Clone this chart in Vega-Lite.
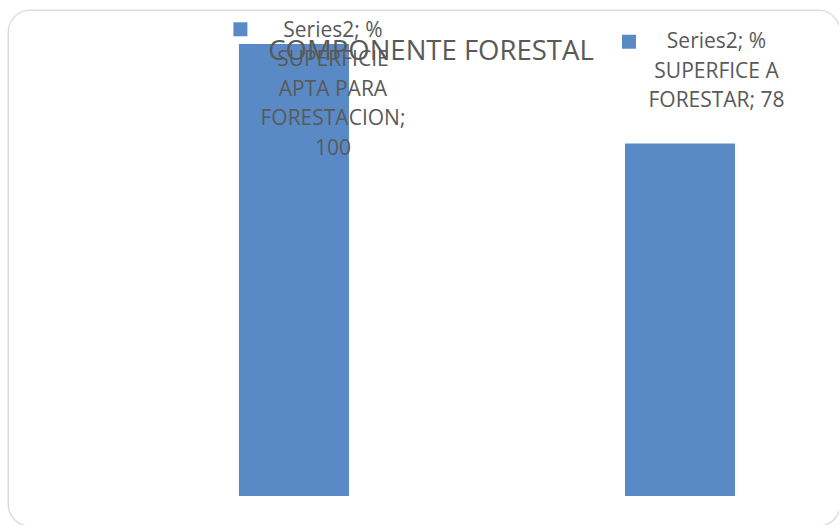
{
  "$schema": "https://vega.github.io/schema/vega-lite/v6.json",
  "autosize": "none",
  "width": 832,
  "height": 516,
  "padding": {"left": 8, "top": 10, "right": 0, "bottom": 0},
  "background": "white",
  "config": {
    "view": {"stroke": "#d9d9d9", "strokeWidth": 1.3, "cornerRadius": 22},
    "font": "Open Sans"
  },
  "title": {
    "text": "COMPONENTE FORESTAL",
    "anchor": "middle",
    "frame": "group",
    "font": "Open Sans",
    "fontSize": 27.5,
    "fontWeight": "normal",
    "color": "#595959",
    "dx": 7,
    "dy": 59
  },
  "data": {
    "values": [
      {"category": "% SUPERFICIE APTA PARA FORESTACION", "series": "Series2", "value": 100, "label": "Series2; %|SUPERFICIE|APTA PARA|FORESTACION;|100"},
      {"category": "% SUPERFICE A FORESTAR", "series": "Series2", "value": 78, "label": "Series2; %|SUPERFICE A|FORESTAR; 78"}
    ]
  },
  "encoding": {
    "x": {
      "field": "category",
      "type": "nominal",
      "sort": null,
      "axis": null,
      "scale": {"paddingInner": 0.715, "paddingOuter": 0.435, "align": 0.6875}
    },
    "y": {
      "field": "value",
      "type": "quantitative",
      "axis": null,
      "scale": {"domain": [-6.64, 107.52], "nice": false, "zero": false}
    }
  },
  "layer": [
    {
      "mark": {"type": "bar", "color": "#5a8ac6"},
      "encoding": {"y2": {"datum": 0}}
    },
    {
      "transform": [{"filter": "datum.value == 100"}],
      "mark": {"type": "text", "lineBreak": "|", "fontSize": 21, "lineHeight": 29.5, "color": "#595959", "align": "center", "baseline": "alphabetic", "dx": 39, "dy": -7.3},
      "encoding": {"text": {"field": "label"}}
    },
    {
      "transform": [{"filter": "datum.value == 78"}],
      "mark": {"type": "text", "lineBreak": "|", "fontSize": 21, "lineHeight": 29.5, "color": "#595959", "align": "center", "baseline": "alphabetic", "dx": 36.5, "dy": -95},
      "encoding": {"text": {"field": "label"}}
    },
    {
      "transform": [{"filter": "datum.value == 100"}],
      "mark": {"type": "point", "shape": "square", "filled": true, "size": 196, "opacity": 1, "color": "#5a8ac6"},
      "encoding": {
        "xOffset": {"datum": 1.5, "type": "quantitative", "scale": null},
        "y": {"datum": 103.25, "type": "quantitative"}
      }
    },
    {
      "transform": [{"filter": "datum.value == 78"}],
      "mark": {"type": "point", "shape": "square", "filled": true, "size": 196, "opacity": 1, "color": "#5a8ac6"},
      "encoding": {
        "xOffset": {"datum": 4, "type": "quantitative", "scale": null},
        "y": {"datum": 100.5, "type": "quantitative"}
      }
    }
  ]
}
